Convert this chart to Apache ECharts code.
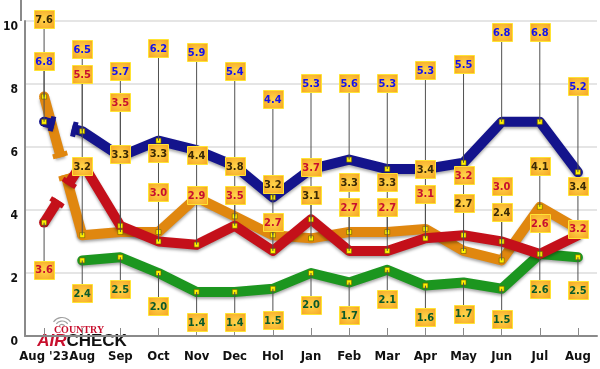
<!DOCTYPE html>
<html><head><meta charset="utf-8">
<script src="https://cdn.jsdelivr.net/npm/echarts@6/dist/echarts.min.js"></script>
<style>html,body{margin:0;padding:0;background:#fff}#c{width:600px;height:369px}</style>
</head><body><div id="c"></div>
<script>
// ---- data ----
const categories = ["Aug '23","Aug","Sep","Oct","Nov","Dec","Hol","Jan","Feb","Mar","Apr","May","Jun","Jul","Aug"];
const blueValues   = [6.8,6.5,5.7,6.2,5.9,5.4,4.4,5.3,5.6,5.3,5.3,5.5,6.8,6.8,5.2];
const orangeValues = [7.6,3.2,3.3,3.3,4.4,3.8,3.2,3.1,3.3,3.3,3.4,2.7,2.4,4.1,3.4];
const redValues    = [3.6,5.5,3.5,3.0,2.9,3.5,2.7,3.7,2.7,2.7,3.1,3.2,3.0,2.6,3.2];
const greenValues  = [null,2.4,2.5,2.0,1.4,1.4,1.5,2.0,1.7,2.1,1.6,1.7,1.5,2.6,2.5];
// where each value's callout box sits (in axis units)
const blueLabelAt   = [8.73,9.1,8.41,9.15,9.02,8.41,7.52,8.04,8.04,8.04,8.44,8.63,9.64,9.64,7.94];
const orangeLabelAt = [10.06,5.39,5.77,5.81,5.74,5.4,4.82,4.47,4.88,4.88,5.29,4.23,3.94,5.4,4.76];
const redLabelAt    = [2.11,8.32,7.42,4.58,4.47,4.47,3.62,5.37,4.1,4.1,4.52,5.1,4.76,3.59,3.41];
const greenLabelAt  = [null,1.35,1.5,0.94,0.44,0.44,0.5,1.0,0.66,1.16,0.6,0.71,0.55,1.5,1.47];
const yTicks = [0,2,4,6,8,10];

// ---- styling ----
const seriesDefs = [
  {name:'blue',   values: blueValues,   labels: blueLabelAt,   color:'#14148c', text:'#1212ee'},
  {name:'orange', values: orangeValues, labels: orangeLabelAt, color:'#e0870f', text:'#3a2a05'},
  {name:'red',    values: redValues,    labels: redLabelAt,    color:'#c4101a', text:'#c8102e'},
  {name:'green',  values: greenValues,  labels: greenLabelAt,  color:'#1c961f', text:'#0a5a2a'}
];
const LW = 10;
const markerStyle = {color:'#fff200', borderColor:'#6b5a00', borderWidth:0.6};
const boxFont = 'bold 11px "DejaVu Sans Condensed","DejaVu Sans",sans-serif';
const axisFont = '"Liberation Sans Narrow","DejaVu Sans Condensed",sans-serif';

const chart = echarts.init(document.getElementById('c'), null, {renderer:'canvas'});

const calloutRows = [];
seriesDefs.forEach((s, si) => {
  s.values.forEach((v, i) => {
    if (v == null) return;
    calloutRows.push([i, v, s.labels[i], si]);
  });
});

const series = [];
const drawOrder = [3,1,2,0];
drawOrder.forEach((si) => {
  const s = seriesDefs[si];
  const breakFirst = s.values[0] != null;
  series.push({
    type:'line', name:s.name, z:2,
    data: s.values.map((v,i) => (v == null || (breakFirst && i === 0)) ? '-' : v),
    symbol:'rect', symbolSize:5, showSymbol:true,
    itemStyle: markerStyle,
    lineStyle:{color:s.color, width:LW, join:'round', cap:'round',
      shadowColor:'rgba(0,0,0,0.35)', shadowBlur:3, shadowOffsetY:2},
    emphasis:{disabled:true}, silent:true, animation:false
  });
  if (breakFirst) {
    series.push({
      type:'custom', name:s.name+'-break', z:2, silent:true, animation:false, clip:false,
      data:[[0, s.values[0], s.values[1]]],
      encode:{x:0, y:1},
      renderItem:(params, api) => {
        const p0 = api.coord([0, api.value(1)]);
        const p1 = api.coord([1, api.value(2)]);
        const dx = p1[0]-p0[0], dy = p1[1]-p0[1];
        const L = Math.hypot(dx, dy), ux = dx/L, uy = dy/L, nx = -uy, ny = ux;
        const m = [p0[0]+dx*0.5, p0[1]+dy*0.5];
        const half = 9;
        const a = [m[0]-ux*half, m[1]-uy*half];
        const b = [m[0]+ux*half, m[1]+uy*half];
        const capLen = 7.5, capW = 5;
        const st = {stroke:s.color, lineWidth:LW, lineCap:'butt', lineJoin:'round',
                    shadowColor:'rgba(0,0,0,0.35)', shadowBlur:3, shadowOffsetY:2};
        const capSt = {stroke:s.color, lineWidth:capW, lineCap:'butt'};
        const ca = [a[0]-ux*capW/2, a[1]-uy*capW/2];
        const cb = [b[0]+ux*capW/2, b[1]+uy*capW/2];
        return {type:'group', children:[
          {type:'circle', shape:{cx:p0[0], cy:p0[1], r:LW/2}, style:{fill:s.color}},
          {type:'line', shape:{x1:p0[0],y1:p0[1],x2:a[0],y2:a[1]}, style:st},
          {type:'line', shape:{x1:b[0],y1:b[1],x2:p1[0],y2:p1[1]}, style:st},
          {type:'line', shape:{x1:ca[0]+nx*capLen,y1:ca[1]+ny*capLen,x2:ca[0]-nx*capLen,y2:ca[1]-ny*capLen}, style:capSt},
          {type:'line', shape:{x1:cb[0]+nx*capLen,y1:cb[1]+ny*capLen,x2:cb[0]-nx*capLen,y2:cb[1]-ny*capLen}, style:capSt},
          {type:'rect', shape:{x:p0[0]-2.5,y:p0[1]-2.5,width:5,height:5},
            style:{fill:markerStyle.color, stroke:markerStyle.borderColor, lineWidth:markerStyle.borderWidth}, z2:10}
        ]};
      }
    });
  }
});

series.push({
  type:'custom', name:'leaders', z:5, silent:true, animation:false, clip:false,
  data: calloutRows, encode:{x:0, y:2},
  renderItem:(params, api) => {
    const i = api.value(0);
    const p = api.coord([i, api.value(1)]);
    const q = api.coord([i, api.value(2)]);
    return {type:'line', shape:{x1:p[0],y1:p[1],x2:q[0],y2:q[1]},
      style:{stroke:'#505050', lineWidth:1}};
  }
});
series.push({
  type:'custom', name:'boxes', z:6, silent:true, animation:false, clip:false,
  data: calloutRows, encode:{x:0, y:2},
  renderItem:(params, api) => {
    const i = api.value(0);
    const q = api.coord([i, api.value(2)]);
    const si = api.value(3);
    const w = 20, h = 18;
    return {type:'group', children:[
      {type:'rect', shape:{x:Math.round(q[0]-w/2)+0.5, y:Math.round(q[1]-h/2)+0.5, width:w, height:h},
        style:{fill:new echarts.graphic.RadialGradient(0.5,0.5,0.75,[
          {offset:0,color:'#ffd54a'},{offset:1,color:'#f5a020'}]), stroke:'#ffe433', lineWidth:1}},
      {type:'text', style:{text:api.value(1).toFixed(1), x:q[0], y:q[1]+1, align:'center',
        verticalAlign:'middle', fill:seriesDefs[si].text, font:boxFont}}
    ]};
  }
});

const option = {
  backgroundColor:'#ffffff',
  animation:false,
  grid:{left:21, right:3, top:21, bottom:33, containLabel:false},
  xAxis:{
    type:'category', data:categories, boundaryGap:true,
    axisLine:{show:true, lineStyle:{color:'#8a8a8a', width:2}},
    axisTick:{show:true, inside:true, alignWithLabel:true, length:8, lineStyle:{color:'#8a8a8a', width:1}},
    axisLabel:{color:'#111', fontWeight:'bold', fontSize:13, fontFamily:axisFont, margin:14, interval:0},
    splitLine:{show:false}
  },
  yAxis:{
    type:'value', min:0, max:10, interval:2,
    axisLine:{show:true, lineStyle:{color:'#8a8a8a', width:2}},
    axisTick:{show:false},
    axisLabel:{color:'#111', fontWeight:'bold', fontSize:12, fontFamily:axisFont, margin:7,
      verticalAlign:'top', formatter:(v)=> yTicks.includes(v) ? String(v) : ''},
    splitLine:{show:true, lineStyle:{color:'#dcdcdc', width:1.5}}
  },
  graphic:[
    {type:'line', shape:{x1:21,y1:0,x2:21,y2:21}, style:{stroke:'#8a8a8a', lineWidth:2}, z:1},
    {type:'group', left:30, top:314, z:20, children:[
      {type:'rect', shape:{x:0,y:0,width:103,height:36}, style:{fill:'#ffffff'}},
      {type:'arc', shape:{cx:32, cy:14, r:3.5, startAngle:Math.PI*1.2, endAngle:Math.PI*1.8}, style:{stroke:'#a0a0a0', lineWidth:1.2, fill:null}},
      {type:'arc', shape:{cx:32, cy:14, r:7, startAngle:Math.PI*1.2, endAngle:Math.PI*1.8}, style:{stroke:'#a0a0a0', lineWidth:1.2, fill:null}},
      {type:'arc', shape:{cx:32, cy:14, r:10.5, startAngle:Math.PI*1.2, endAngle:Math.PI*1.8}, style:{stroke:'#a0a0a0', lineWidth:1.2, fill:null}},
      {type:'text', style:{text:'COUNTRY', x:49, y:16.5, align:'center', verticalAlign:'middle',
        font:'bold 10px "Liberation Serif","DejaVu Serif",serif', fill:'#c8102e'}},
      {type:'text', style:{text:'{a|AIR}{c|CHECK}', x:52, y:27.5, align:'center', verticalAlign:'middle',
        rich:{a:{font:'italic bold 17px "Liberation Sans",sans-serif', fill:'#c8102e'},
              c:{font:'bold 17px "Liberation Sans",sans-serif', fill:'#111'}}}}
    ]}
  ],
  series: series
};
chart.setOption(option);
</script>
</body></html>
